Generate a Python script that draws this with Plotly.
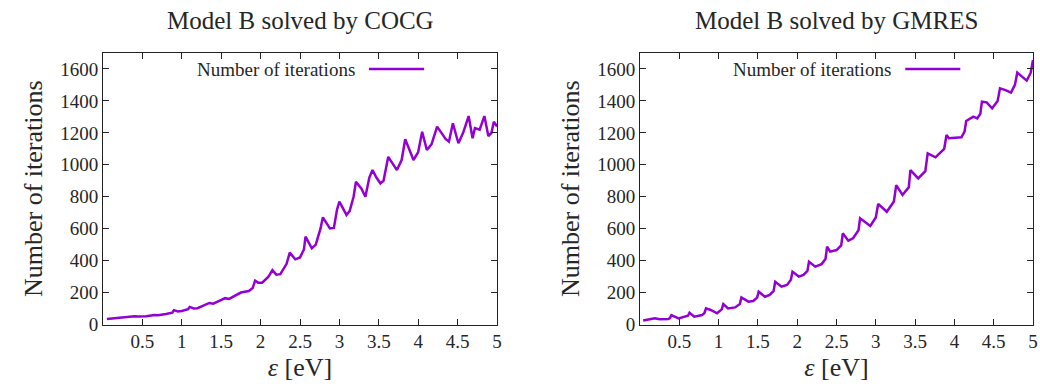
import plotly.graph_objects as go

# ---------------- data ----------------
cocg_x = [0.05, 0.15, 0.2, 0.3, 0.4, 0.45, 0.5, 0.55, 0.65, 0.7, 0.8, 0.88, 0.9, 0.95, 1.0,
          1.08, 1.1, 1.15, 1.2, 1.3, 1.35, 1.4, 1.5, 1.55, 1.6, 1.7, 1.75, 1.85, 1.9, 1.93,
          1.97, 2.02, 2.1, 2.15, 2.2, 2.25, 2.33, 2.37, 2.44, 2.5, 2.55, 2.57, 2.65, 2.7,
          2.76, 2.79, 2.88, 2.93, 2.97, 3.0, 3.09, 3.13, 3.18, 3.21, 3.28, 3.33, 3.38,
          3.42, 3.47, 3.52, 3.56, 3.62, 3.67, 3.73, 3.79, 3.835, 3.9, 3.94, 4.0, 4.05,
          4.11, 4.17, 4.24, 4.3, 4.35, 4.39, 4.44, 4.51, 4.57, 4.64, 4.69, 4.72, 4.78,
          4.84, 4.89, 4.93, 4.96, 5.0]
cocg_y = [35, 40, 44, 45, 52, 50, 50, 52, 60, 58, 66, 74, 90, 82, 85,
          96, 110, 100, 102, 125, 135, 130, 150, 165, 160, 185, 200, 210, 228, 275,
          262, 262, 300, 340, 312, 315, 380, 450, 408, 420, 470, 550, 477, 500,
          600, 671, 602, 605, 720, 769, 686, 710, 800, 894, 850, 800, 920,
          967, 920, 884, 900, 1050, 1010, 967, 1030, 1160, 1080, 1030, 1080, 1207,
          1093, 1130, 1239, 1200, 1160, 1145, 1260, 1135, 1200, 1305, 1166, 1230, 1220,
          1305, 1180, 1200, 1270, 1240]

gmres_x = [0.04, 0.19, 0.25, 0.36, 0.38, 0.4, 0.49, 0.57, 0.61, 0.63, 0.69, 0.79, 0.82,
           0.84, 0.9, 0.98, 1.04, 1.06, 1.12, 1.21, 1.27, 1.29, 1.38, 1.44, 1.49, 1.51,
           1.59, 1.65, 1.70, 1.72, 1.8, 1.87, 1.92, 1.94, 2.02, 2.08, 2.13, 2.15, 2.23,
           2.31, 2.36, 2.38, 2.42, 2.5, 2.56, 2.58, 2.65, 2.71, 2.78, 2.8, 2.93, 3.0,
           3.03, 3.14, 3.23, 3.26, 3.34, 3.42, 3.44, 3.54, 3.63, 3.66, 3.76, 3.87, 3.9,
           3.93, 4.09, 4.13, 4.15, 4.24, 4.29, 4.33, 4.35, 4.41, 4.48, 4.55, 4.58, 4.65,
           4.72, 4.77, 4.8, 4.92, 4.97, 5.0]
gmres_y = [25, 39, 33, 34, 40, 59, 38, 49, 55, 74, 49, 59, 72,
           101, 91, 70, 95, 128, 101, 107, 128, 170, 143, 147, 168, 205,
           174, 185, 210, 268, 237, 248, 280, 331, 300, 310, 335, 393, 362,
           378, 410, 487, 456, 466, 495, 571, 525, 540, 590, 665, 617, 670,
           755, 706, 770, 873, 811, 860, 967, 915, 960, 1072, 1047, 1100, 1187,
           1166, 1172, 1210, 1274, 1301, 1290, 1320, 1395, 1391, 1354, 1400, 1479, 1468,
           1452, 1500, 1577, 1527, 1575, 1656]

titles = ["Model B solved by COCG", "Model B solved by GMRES"]
legend_label = "Number of iterations"
x_ticks = [0.5, 1, 1.5, 2, 2.5, 3, 3.5, 4, 4.5, 5]
y_ticks = [0, 200, 400, 600, 800, 1000, 1200, 1400, 1600]

# ---------------- style ----------------
FONT = "Liberation Serif"
TXT = "#262626"
LINE = "#9400D3"
W, H = 1040, 389

fig = go.Figure()
fig.add_trace(go.Scatter(x=cocg_x, y=cocg_y, mode="lines", name=legend_label,
                         line=dict(color=LINE, width=2.5), xaxis="x", yaxis="y",
                         showlegend=False))
fig.add_trace(go.Scatter(x=gmres_x, y=gmres_y, mode="lines", name=legend_label,
                         line=dict(color=LINE, width=2.5), xaxis="x2", yaxis="y2",
                         showlegend=False))

yd = [(H - 324.5) / H, (H - 53) / H]
doms = [[103 / W, 497 / W], [640 / W, 1033 / W]]

def xaxis(dom, anchor):
    return dict(domain=dom, anchor=anchor, range=[0, 5], tickvals=x_ticks,
                ticktext=[f"{v:g}" for v in x_ticks], automargin=False,
                ticklabeloverflow="allow",
                ticks="inside", ticklen=6, tickwidth=1, tickcolor="#222",
                showline=True, linecolor="#222", linewidth=1, mirror="allticks",
                showgrid=False, zeroline=False,
                tickfont=dict(family=FONT, size=19, color=TXT),
                title=dict(text="<i>ε</i> [eV]", font=dict(family=FONT, size=26, color=TXT),
                           standoff=6))

def yaxis(anchor):
    return dict(domain=yd, anchor=anchor, range=[0, 1700], tickvals=y_ticks,
                automargin=False,
                ticks="inside", ticklen=6, tickwidth=1, tickcolor="#222",
                showline=True, linecolor="#222", linewidth=1, mirror="allticks",
                showgrid=False, zeroline=False,
                tickfont=dict(family=FONT, size=19, color=TXT),
                title=dict(text=legend_label, font=dict(family=FONT, size=26, color=TXT),
                           standoff=10))

annotations = []
shapes = []
for i, (t, dom) in enumerate(zip(titles, doms)):
    annotations.append(dict(text=t, x=(dom[0] + dom[1]) / 2, y=(H - 21) / H,
                            xref="paper", yref="paper", showarrow=False,
                            xanchor="center", yanchor="middle",
                            font=dict(family=FONT, size=25, color=TXT)))
    xr = "x domain" if i == 0 else "x2 domain"
    yr = "y domain" if i == 0 else "y2 domain"
    annotations.append(dict(text=legend_label, x=0.645, y=0.941, xref=xr, yref=yr,
                            showarrow=False, xanchor="right", yanchor="middle",
                            font=dict(family=FONT, size=19, color=TXT)))
    shapes.append(dict(type="line", xref=xr, yref=yr, x0=0.675, x1=0.815,
                       y0=0.941, y1=0.941, line=dict(color=LINE, width=2.5)))

fig.update_layout(
    width=W, height=H,
    margin=dict(l=0, r=0, t=0, b=0),
    paper_bgcolor="white", plot_bgcolor="white",
    xaxis=xaxis(doms[0], "y"), yaxis=yaxis("x"),
    xaxis2=xaxis(doms[1], "y2"), yaxis2=yaxis("x2"),
    annotations=annotations, shapes=shapes,
    font=dict(family=FONT, color=TXT),
    hovermode=False,
)

fig.write_html("out.html", config={"displayModeBar": False, "staticPlot": True},
               post_script="document.body.style.margin='0';document.body.style.overflow='hidden';")
